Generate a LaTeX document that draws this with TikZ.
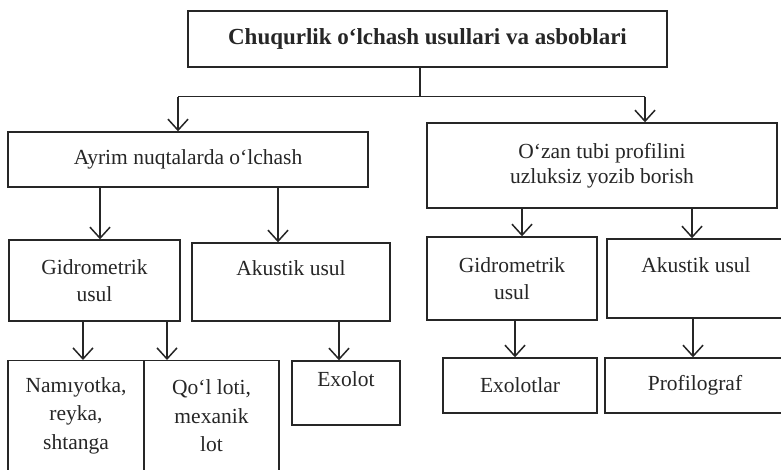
\documentclass[tikz,border=0pt]{standalone}
\usepackage{fontspec}
\setmainfont{Liberation Serif}
\usetikzlibrary{arrows.meta,calc}
\definecolor{ink}{HTML}{262626}
\tikzset{
  box/.style={draw=ink, line width=1.4pt, text=ink, align=center, inner sep=0pt,
    font=\fontsize{21.5}{27}\selectfont},
  arr/.style={draw=ink, line width=1.4pt, -{Straight Barb[length=11pt,width=20pt,line width=1.5pt]}},
  ln/.style={draw=ink, line width=1.4pt}
}
\begin{document}
\begin{tikzpicture}[x=1pt,y=-1pt]
\useasboundingbox (0,0) rectangle (781,469);
\fill[white] (0,0) rectangle (781,469);
\clip (0,0) rectangle (781,469);

\node[box, minimum width=479, minimum height=56, font=\fontsize{23}{27}\selectfont\bfseries] (top) at (427.5,39) {Chuqurlik o‘lchash usullari va asboblari};

\node[box, minimum width=360, minimum height=55] (ayrim) at (188,159.5) {Ayrim nuqtalarda o‘lchash};
\node[box, minimum width=350, minimum height=85, font=\fontsize{21.5}{25.5}\selectfont] (ozan) at (602,165.5) {O‘zan tubi profilini\\uzluksiz yozib borish};

\node[box, minimum width=171, minimum height=81] (gid1) at (94.5,280.5) {Gidrometrik\\usul};
\node[box, minimum width=198, minimum height=78] (aku1) at (291,282) {Akustik usul\\\mbox{}};
\node[box, minimum width=170, minimum height=83] (gid2) at (512,278.5) {Gidrometrik\\usul};
\node[box, minimum width=178, minimum height=79] (aku2) at (696,278.5) {Akustik usul\\\mbox{}};

\node[box, minimum width=136, minimum height=110, anchor=north, font=\fontsize{21.5}{28.5}\selectfont] (nam) at (76,360) {Namıyotka,\\reyka,\\shtanga};
\node[box, minimum width=135, minimum height=110, anchor=north, font=\fontsize{21.5}{28.5}\selectfont] (qol) at (211.5,360) {Qo‘l loti,\\mexanik\\lot};
\node[box, minimum width=108, minimum height=64] (exo) at (346,393) {Exolot\\\mbox{}};
\node[box, minimum width=154, minimum height=55] (exol) at (520,385.5) {Exolotlar};
\node[box, minimum width=180, minimum height=55] (prof) at (695,385.5) {Profilograf};

% top splitter
\coordinate (j) at (420,96.5);
\draw[ln] (top.south -| j) -- (j);
\draw[arr] ($(j -| ayrim.north)+(-10,0)$) -- ($(ayrim.north)+(-10,0)$);
\draw[arr] ($(j -| ozan.north)+(43,0)$) -- ($(ozan.north)+(43,0)$);
\draw[ln] ($(j -| ayrim.north)+(-10,0)$) -- ($(j -| ozan.north)+(43,0)$);

% level 2
\draw[arr] ($(ayrim.south -| gid1.north)+(5.5,0)$) -- ($(gid1.north)+(5.5,0)$);
\draw[arr] ($(ayrim.south -| aku1.north)+(-13,0)$) -- ($(aku1.north)+(-13,0)$);
\draw[arr] ($(ozan.south -| gid2.north)+(10,0)$) -- ($(gid2.north)+(10,0)$);
\draw[arr] ($(ozan.south -| aku2.north)+(-4,0)$) -- ($(aku2.north)+(-4,0)$);

% level 3
\draw[arr] ($(gid1.south -| nam.north)+(7,0)$) -- ($(nam.north)+(7,0)$);
\draw[arr] ($(gid1.south -| qol.north)+(-44.5,0)$) -- ($(qol.north)+(-44.5,0)$);
\draw[arr] ($(aku1.south -| exo.north)+(-7,0)$) -- ($(exo.north)+(-7,0)$);
\draw[arr] ($(gid2.south -| exol.north)+(-5,0)$) -- ($(exol.north)+(-5,0)$);
\draw[arr] ($(aku2.south -| prof.north)+(-2,0)$) -- ($(prof.north)+(-2,0)$);
\end{tikzpicture}
\end{document}
